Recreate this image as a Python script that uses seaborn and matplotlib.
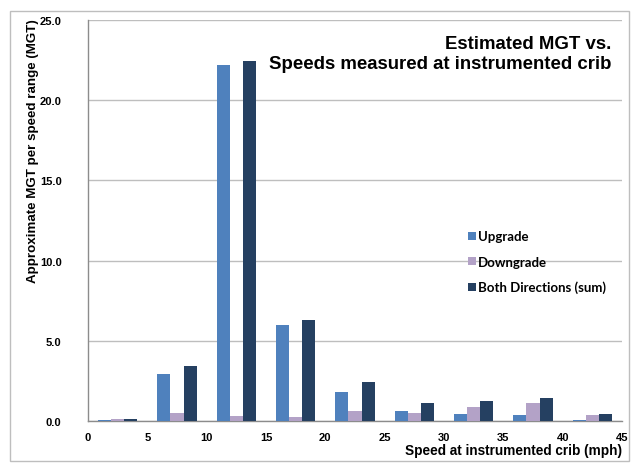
import matplotlib
matplotlib.use("Agg")
from matplotlib import pyplot as plt
from matplotlib.patches import Rectangle
import seaborn as sns
import pandas as pd

# speed bins (mph), mid points of each 5 mph range
speed_mid = [2.5, 7.5, 12.5, 17.5, 22.5, 27.5, 32.5, 37.5, 42.5]
upgrade = [0.05, 2.9, 22.2, 6.0, 1.8, 0.6, 0.45, 0.4, 0.06]
downgrade = [0.1, 0.52, 0.3, 0.25, 0.62, 0.5, 0.85, 1.1, 0.38]
both = [0.15, 3.42, 22.45, 6.28, 2.43, 1.12, 1.25, 1.45, 0.45]

series_names = ["Upgrade", "Downgrade", "Both Directions (sum)"]
colors = ["#4F81BD", "#B3A2C7", "#254061"]

rows = []
for name, vals in zip(series_names, [upgrade, downgrade, both]):
    for s, v in zip(speed_mid, vals):
        rows.append({"speed": s, "mgt": v, "series": name})
df = pd.DataFrame(rows)

sns.set_style("white")
plt.rcParams["font.family"] = ["Liberation Sans", "DejaVu Sans"]
plt.rcParams["text.color"] = "black"
plt.rcParams["axes.labelcolor"] = "black"
plt.rcParams["xtick.labelcolor"] = "black"
plt.rcParams["ytick.labelcolor"] = "black"

fig = plt.figure(figsize=(6.31, 4.64), dpi=100)
ax = fig.add_axes([88 / 631, 42 / 464, 534 / 631, 401 / 464])

sns.barplot(data=df, x="speed", y="mgt", hue="series", native_scale=True,
            palette=colors, width=0.66, linewidth=0, saturation=1,
            errorbar=None, ax=ax, zorder=3)

ax.set_xlim(0, 45)
ax.set_ylim(0, 25)
ax.set_xticks(range(0, 46, 5))
ax.set_yticks([0, 5, 10, 15, 20, 25])
ax.set_yticklabels(["%.1f" % t for t in [0, 5, 10, 15, 20, 25]])
ax.yaxis.grid(True, color="#BEBEBE", linewidth=1, zorder=0)
ax.set_axisbelow(True)

for side in ["top", "right"]:
    ax.spines[side].set_visible(False)
for side in ["left", "bottom"]:
    ax.spines[side].set_color("#8C8C8C")
    ax.spines[side].set_linewidth(1)
ax.tick_params(axis="both", length=4, width=1, color="#8C8C8C", direction="out",
               labelsize=8, pad=4)
ax.tick_params(axis="y", length=3, pad=16)
for lbl in ax.get_xticklabels() + ax.get_yticklabels():
    lbl.set_fontweight("bold")

ax.set_xlabel("Speed at instrumented crib (mph)", fontsize=9.8, fontweight="bold",
              ha="right")
ax.xaxis.set_label_coords(1.0, -0.055)
ax.set_ylabel("Approximate MGT per speed range (MGT)", fontsize=9.6, fontweight="bold",
              va="center")
ax.yaxis.set_label_coords(-0.103, 0.675)

ax.text(0.981, 0.962, "Estimated MGT vs.\nSpeeds measured at instrumented crib",
        transform=ax.transAxes, ha="right", va="top", fontsize=13.4,
        fontweight="bold", linespacing=1.2)

leg = ax.legend(loc="upper left", bbox_to_anchor=(0.69, 0.505), frameon=False,
                handlelength=0.55, handleheight=0.55, handletextpad=0.15,
                labelspacing=1.0, prop={"family": "Lato", "weight": "bold", "size": 9.5})

fig.patches.append(Rectangle((10 / 631, 2 / 464), 619 / 631, 450 / 464,
                             transform=fig.transFigure, fill=False,
                             edgecolor="#BEBEBE", linewidth=1))

fig.savefig("out.png", dpi=100)
